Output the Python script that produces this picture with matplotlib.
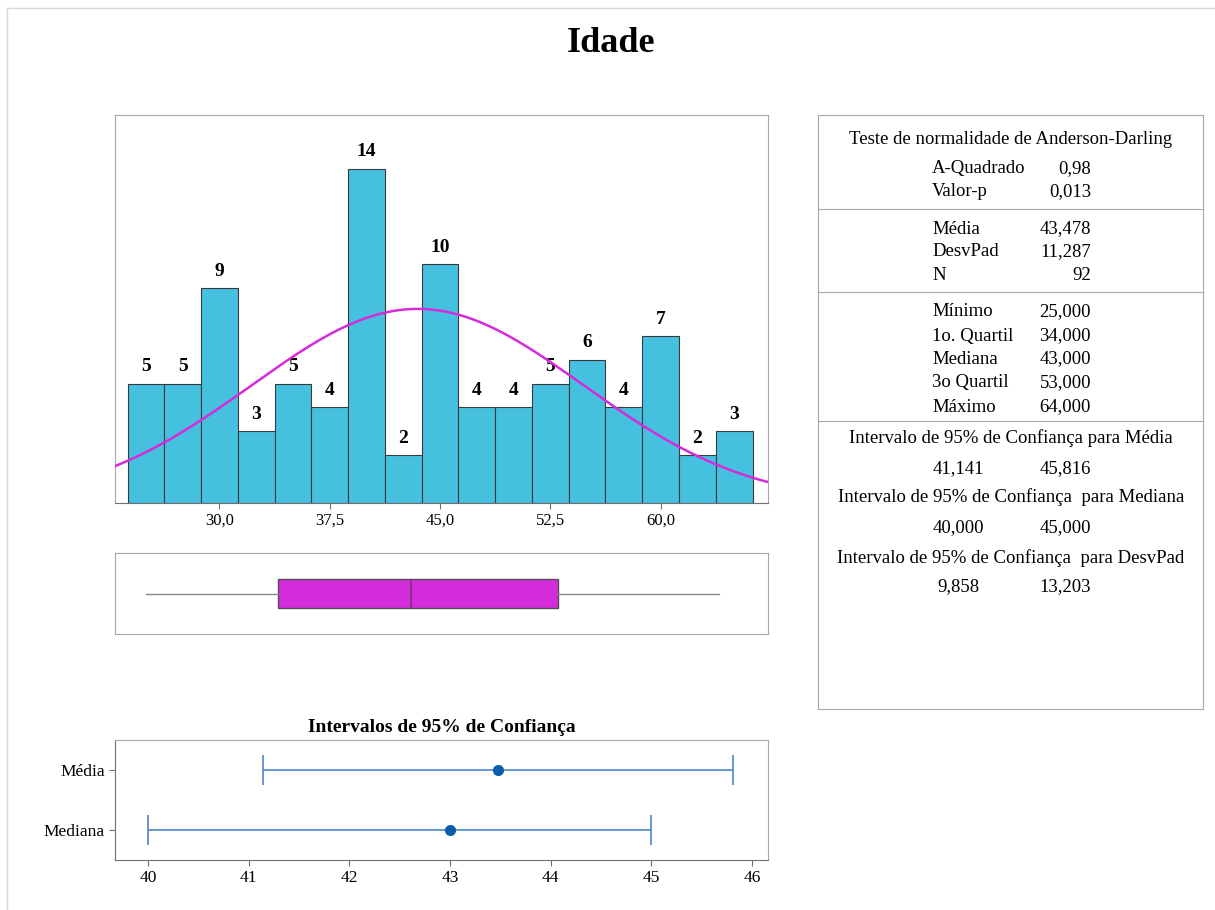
import numpy as np
import matplotlib.pyplot as plt
from matplotlib.lines import Line2D

plt.rcParams['font.family'] = ['Liberation Serif', 'DejaVu Serif']

# Histogram of ages (bins of width 2.5 centred on 25, 27.5, ..., 65)
bin_centers = np.arange(25, 65.1, 2.5)
counts = [5, 5, 9, 3, 5, 4, 14, 2, 10, 4, 4, 5, 6, 4, 7, 2, 3]
bin_width = 2.5
hist_ticks = [30.0, 37.5, 45.0, 52.5, 60.0]

# Summary statistics
mean, std, n = 43.478, 11.287, 92
a_squared, p_value = 0.98, 0.013
minimum, q1, median, q3, maximum = 25.0, 34.0, 43.0, 53.0, 64.0
ci_mean = (41.141, 45.816)
ci_median = (40.0, 45.0)
ci_std = (9.858, 13.203)

ci_labels = ["Média", "Mediana"]
ci_centers = [mean, median]
ci_bounds = [ci_mean, ci_median]

BAR = '#45C0DF'
MAGENTA = '#D42BDB'
FRAME = '#A8A8A8'


def fmt(v, d=3):
    return f"{v:.{d}f}".replace('.', ',')


W, H = 1215, 910
fig = plt.figure(figsize=(W / 100, H / 100), dpi=100)


def px_axes(left, top, right, bottom):
    return fig.add_axes([left / W, 1 - bottom / H, (right - left) / W, (bottom - top) / H])


# light page frame (top and left edges)
fig.add_artist(Line2D([7 / W, 1], [1 - 8 / H, 1 - 8 / H], transform=fig.transFigure,
                      color='#D8D8D8', linewidth=1))
fig.add_artist(Line2D([7 / W, 7 / W], [0, 1 - 8 / H], transform=fig.transFigure,
                      color='#D8D8D8', linewidth=1))
fig.text(611 / W, 1 - 44 / H, "Idade", ha='center', va='center',
         fontsize=26, fontweight='bold')

# --- histogram with fitted normal curve
ax = px_axes(115, 115, 768, 503)
ax.bar(bin_centers, counts, width=bin_width, color=BAR, edgecolor='#3A3A3A',
       linewidth=0.8, zorder=2)
for x, c in zip(bin_centers, counts):
    ax.text(x, c + 0.35, str(c), ha='center', va='bottom', fontsize=14,
            fontweight='bold')
xs = np.linspace(22.9, 67.3, 400)
pdf = np.exp(-0.5 * ((xs - mean) / std) ** 2) / (std * np.sqrt(2 * np.pi))
ax.plot(xs, pdf * n * bin_width, color=MAGENTA, linewidth=1.8, zorder=3)
ax.set_xlim(22.9, 67.3)
ax.set_ylim(0, 16.25)
ax.set_yticks([])
ax.set_xticks(hist_ticks)
ax.set_xticklabels([fmt(t, 1) for t in hist_ticks], fontsize=12)
ax.tick_params(axis='x', length=4, color='#707070', pad=3)
for s in ax.spines.values():
    s.set_color(FRAME)
    s.set_linewidth(0.8)
ax.spines['bottom'].set_color('#707070')

# --- boxplot
bx = px_axes(115, 553, 768, 634)
bx.bxp([{'whislo': minimum, 'q1': q1, 'med': median, 'q3': q3, 'whishi': maximum,
         'fliers': []}], orientation='horizontal', widths=0.36, showcaps=False,
       patch_artist=True, showfliers=False,
       boxprops=dict(facecolor=MAGENTA, edgecolor='#505050', linewidth=1),
       whiskerprops=dict(color='#8A8A8A', linewidth=1),
       medianprops=dict(color='#7A2F7A', linewidth=1.2))
bx.set_xlim(22.9, 67.3)
bx.set_ylim(0.5, 1.5)
bx.set_xticks([])
bx.set_yticks([])
for s in bx.spines.values():
    s.set_color(FRAME)
    s.set_linewidth(0.8)

# --- confidence intervals
cx = px_axes(115, 740, 768, 860)
ypos = [1, 0]
for y, c, (lo, hi) in zip(ypos, ci_centers, ci_bounds):
    cx.errorbar(c, y, xerr=[[c - lo], [hi - c]], fmt='o', color='#0B5CAD',
                ecolor='#3C7CC4', elinewidth=1.1, capsize=11, capthick=1.1,
                markersize=7)
cx.set_xlim(39.67, 46.16)
cx.set_ylim(-0.5, 1.5)
cx.set_yticks(ypos)
cx.set_yticklabels(ci_labels, fontsize=12.5)
cx.set_xticks(range(40, 47))
cx.tick_params(axis='x', labelsize=12.5, length=4, color='#707070')
cx.tick_params(axis='y', length=4, color='#707070')
for s in cx.spines.values():
    s.set_color(FRAME)
    s.set_linewidth(0.8)
cx.spines['bottom'].set_color('#707070')
cx.spines['left'].set_color('#707070')
cx.set_title("Intervalos de 95% de Confiança", fontsize=14, fontweight='bold', pad=6)

# --- statistics panel
tx = px_axes(818, 115, 1203, 709)
tx.set_xlim(818, 1203)
tx.set_ylim(709, 115)
tx.set_xticks([])
tx.set_yticks([])
for s in tx.spines.values():
    s.set_color(FRAME)
    s.set_linewidth(0.8)

FS = 13.5
LX, RX, CX = 932, 1091, 1011


def row(label, value, y):
    tx.text(LX, y, label, ha='left', va='center', fontsize=FS)
    tx.text(RX, y, value, ha='right', va='center', fontsize=FS)


tx.text(CX, 139, "Teste de normalidade de Anderson-Darling", ha='center',
        va='center', fontsize=FS)
row("A-Quadrado", fmt(a_squared, 2), 169)
row("Valor-p", fmt(p_value), 192)
tx.axhline(209, color=FRAME, linewidth=0.8)
row("Média", fmt(mean), 229)
row("DesvPad", fmt(std), 252)
row("N", str(n), 276)
tx.axhline(292, color=FRAME, linewidth=0.8)
row("Mínimo", fmt(minimum), 312)
row("1o. Quartil", fmt(q1), 336)
row("Mediana", fmt(median), 359)
row("3o Quartil", fmt(q3), 383)
row("Máximo", fmt(maximum), 407)
tx.axhline(421, color=FRAME, linewidth=0.8)

ci_rows = [("Intervalo de 95% de Confiança para Média", ci_mean, 438, 469),
           ("Intervalo de 95% de Confiança  para Mediana", ci_median, 497, 528),
           ("Intervalo de 95% de Confiança  para DesvPad", ci_std, 558, 587)]
for title, (lo, hi), y1, y2 in ci_rows:
    tx.text(CX, y1, title, ha='center', va='center', fontsize=FS)
    tx.text(958, y2, fmt(lo), ha='center', va='center', fontsize=FS)
    tx.text(RX, y2, fmt(hi), ha='right', va='center', fontsize=FS)

fig.savefig("out.png", dpi=100)
